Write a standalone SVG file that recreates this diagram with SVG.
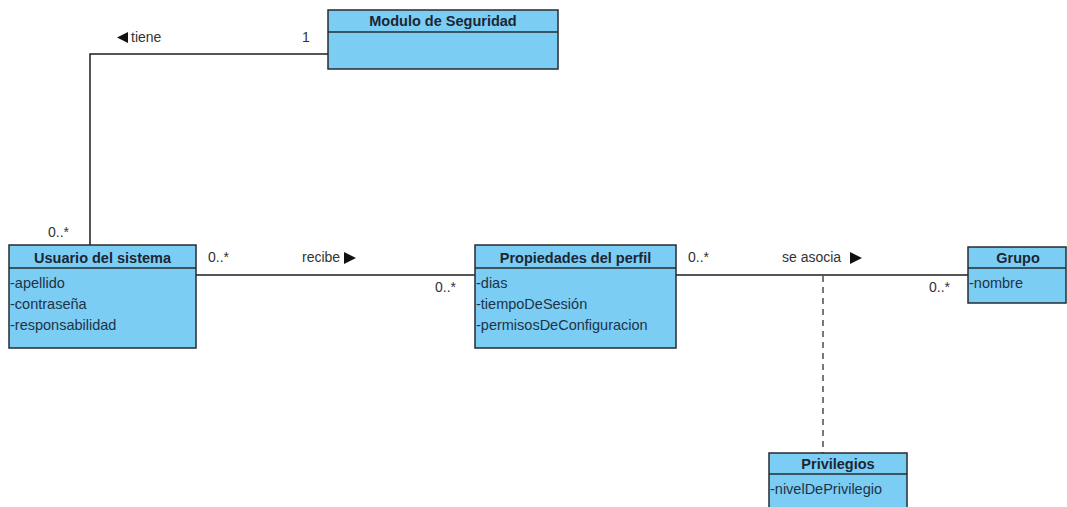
<svg xmlns="http://www.w3.org/2000/svg" width="1067" height="507" viewBox="0 0 1067 507">
  <style>
    .box { fill: #7bcdf3; stroke: #262b30; stroke-width: 1.5; }
    .sep { stroke: #262b30; stroke-width: 1.5; }
    .head { font-family: "Liberation Sans", Arial, sans-serif; font-size: 14.5px; font-weight: bold; fill: #1b2633; text-anchor: middle; }
    .attr { font-family: "Liberation Sans", Arial, sans-serif; font-size: 14.5px; fill: #1e3348; }
    .lbl { font-family: "Liberation Sans", Arial, sans-serif; font-size: 14px; fill: #333333; }
    .edge { fill: none; stroke: #1e1e1e; stroke-width: 1.5; }
    .dash { fill: none; stroke: #1e1e1e; stroke-width: 1.2; stroke-dasharray: 6 5; }
    .tri { fill: #111111; }
  </style>
  <rect width="1067" height="507" fill="#ffffff"/>

  <!-- associations -->
  <g id="connectors">
    <polyline class="edge" points="90,245 90,54 328,54"/>
    <line class="edge" x1="196" y1="275" x2="475" y2="275"/>
    <line class="edge" x1="676" y1="275" x2="968" y2="275"/>
    <line class="dash" x1="823" y1="276" x2="823" y2="453"/>

    <!-- tiene -->
    <polygon class="tri" points="128,32 128,43 117,37.5"/>
    <text class="lbl" x="131" y="42">tiene</text>
    <text class="lbl" x="302" y="42">1</text>
    <text class="lbl" x="48" y="237">0..*</text>

    <!-- recibe -->
    <text class="lbl" x="208" y="262">0..*</text>
    <text class="lbl" x="302" y="262">recibe</text>
    <polygon class="tri" points="344,252 344,264 356,258"/>
    <text class="lbl" x="435" y="292">0..*</text>

    <!-- se asocia -->
    <text class="lbl" x="688" y="262">0..*</text>
    <text class="lbl" x="782" y="262">se asocia</text>
    <polygon class="tri" points="850,252 850,264 862,258"/>
    <text class="lbl" x="929" y="292">0..*</text>
  </g>

  <g id="modulo-seguridad">
    <rect class="box" x="328" y="10" width="230" height="59"/>
    <line class="sep" x1="328" y1="32" x2="558" y2="32"/>
    <text class="head" x="443" y="26">Modulo de Seguridad</text>
  </g>

  <g id="usuario-sistema">
    <rect class="box" x="9" y="245" width="187" height="103"/>
    <line class="sep" x1="9" y1="268" x2="196" y2="268"/>
    <text class="head" x="102.5" y="263">Usuario del sistema</text>
    <text class="attr" x="10" y="288">-apellido</text>
    <text class="attr" x="10" y="309">-contraseña</text>
    <text class="attr" x="10" y="330">-responsabilidad</text>
  </g>

  <g id="propiedades-perfil">
    <rect class="box" x="475" y="245" width="201" height="103"/>
    <line class="sep" x1="475" y1="268" x2="676" y2="268"/>
    <text class="head" x="575.5" y="263">Propiedades del perfil</text>
    <text class="attr" x="476" y="288">-dias</text>
    <text class="attr" x="476" y="309">-tiempoDeSesión</text>
    <text class="attr" x="476" y="330">-permisosDeConfiguracion</text>
  </g>

  <g id="grupo">
    <rect class="box" x="968" y="247" width="98" height="56"/>
    <line class="sep" x1="968" y1="268" x2="1066" y2="268"/>
    <text class="head" x="1018" y="263">Grupo</text>
    <text class="attr" x="969" y="288">-nombre</text>
  </g>

  <g id="privilegios">
    <rect class="box" x="769" y="453" width="138" height="60"/>
    <line class="sep" x1="769" y1="474" x2="907" y2="474"/>
    <text class="head" x="838" y="469">Privilegios</text>
    <text class="attr" x="770" y="494">-nivelDePrivilegio</text>
  </g>
</svg>
